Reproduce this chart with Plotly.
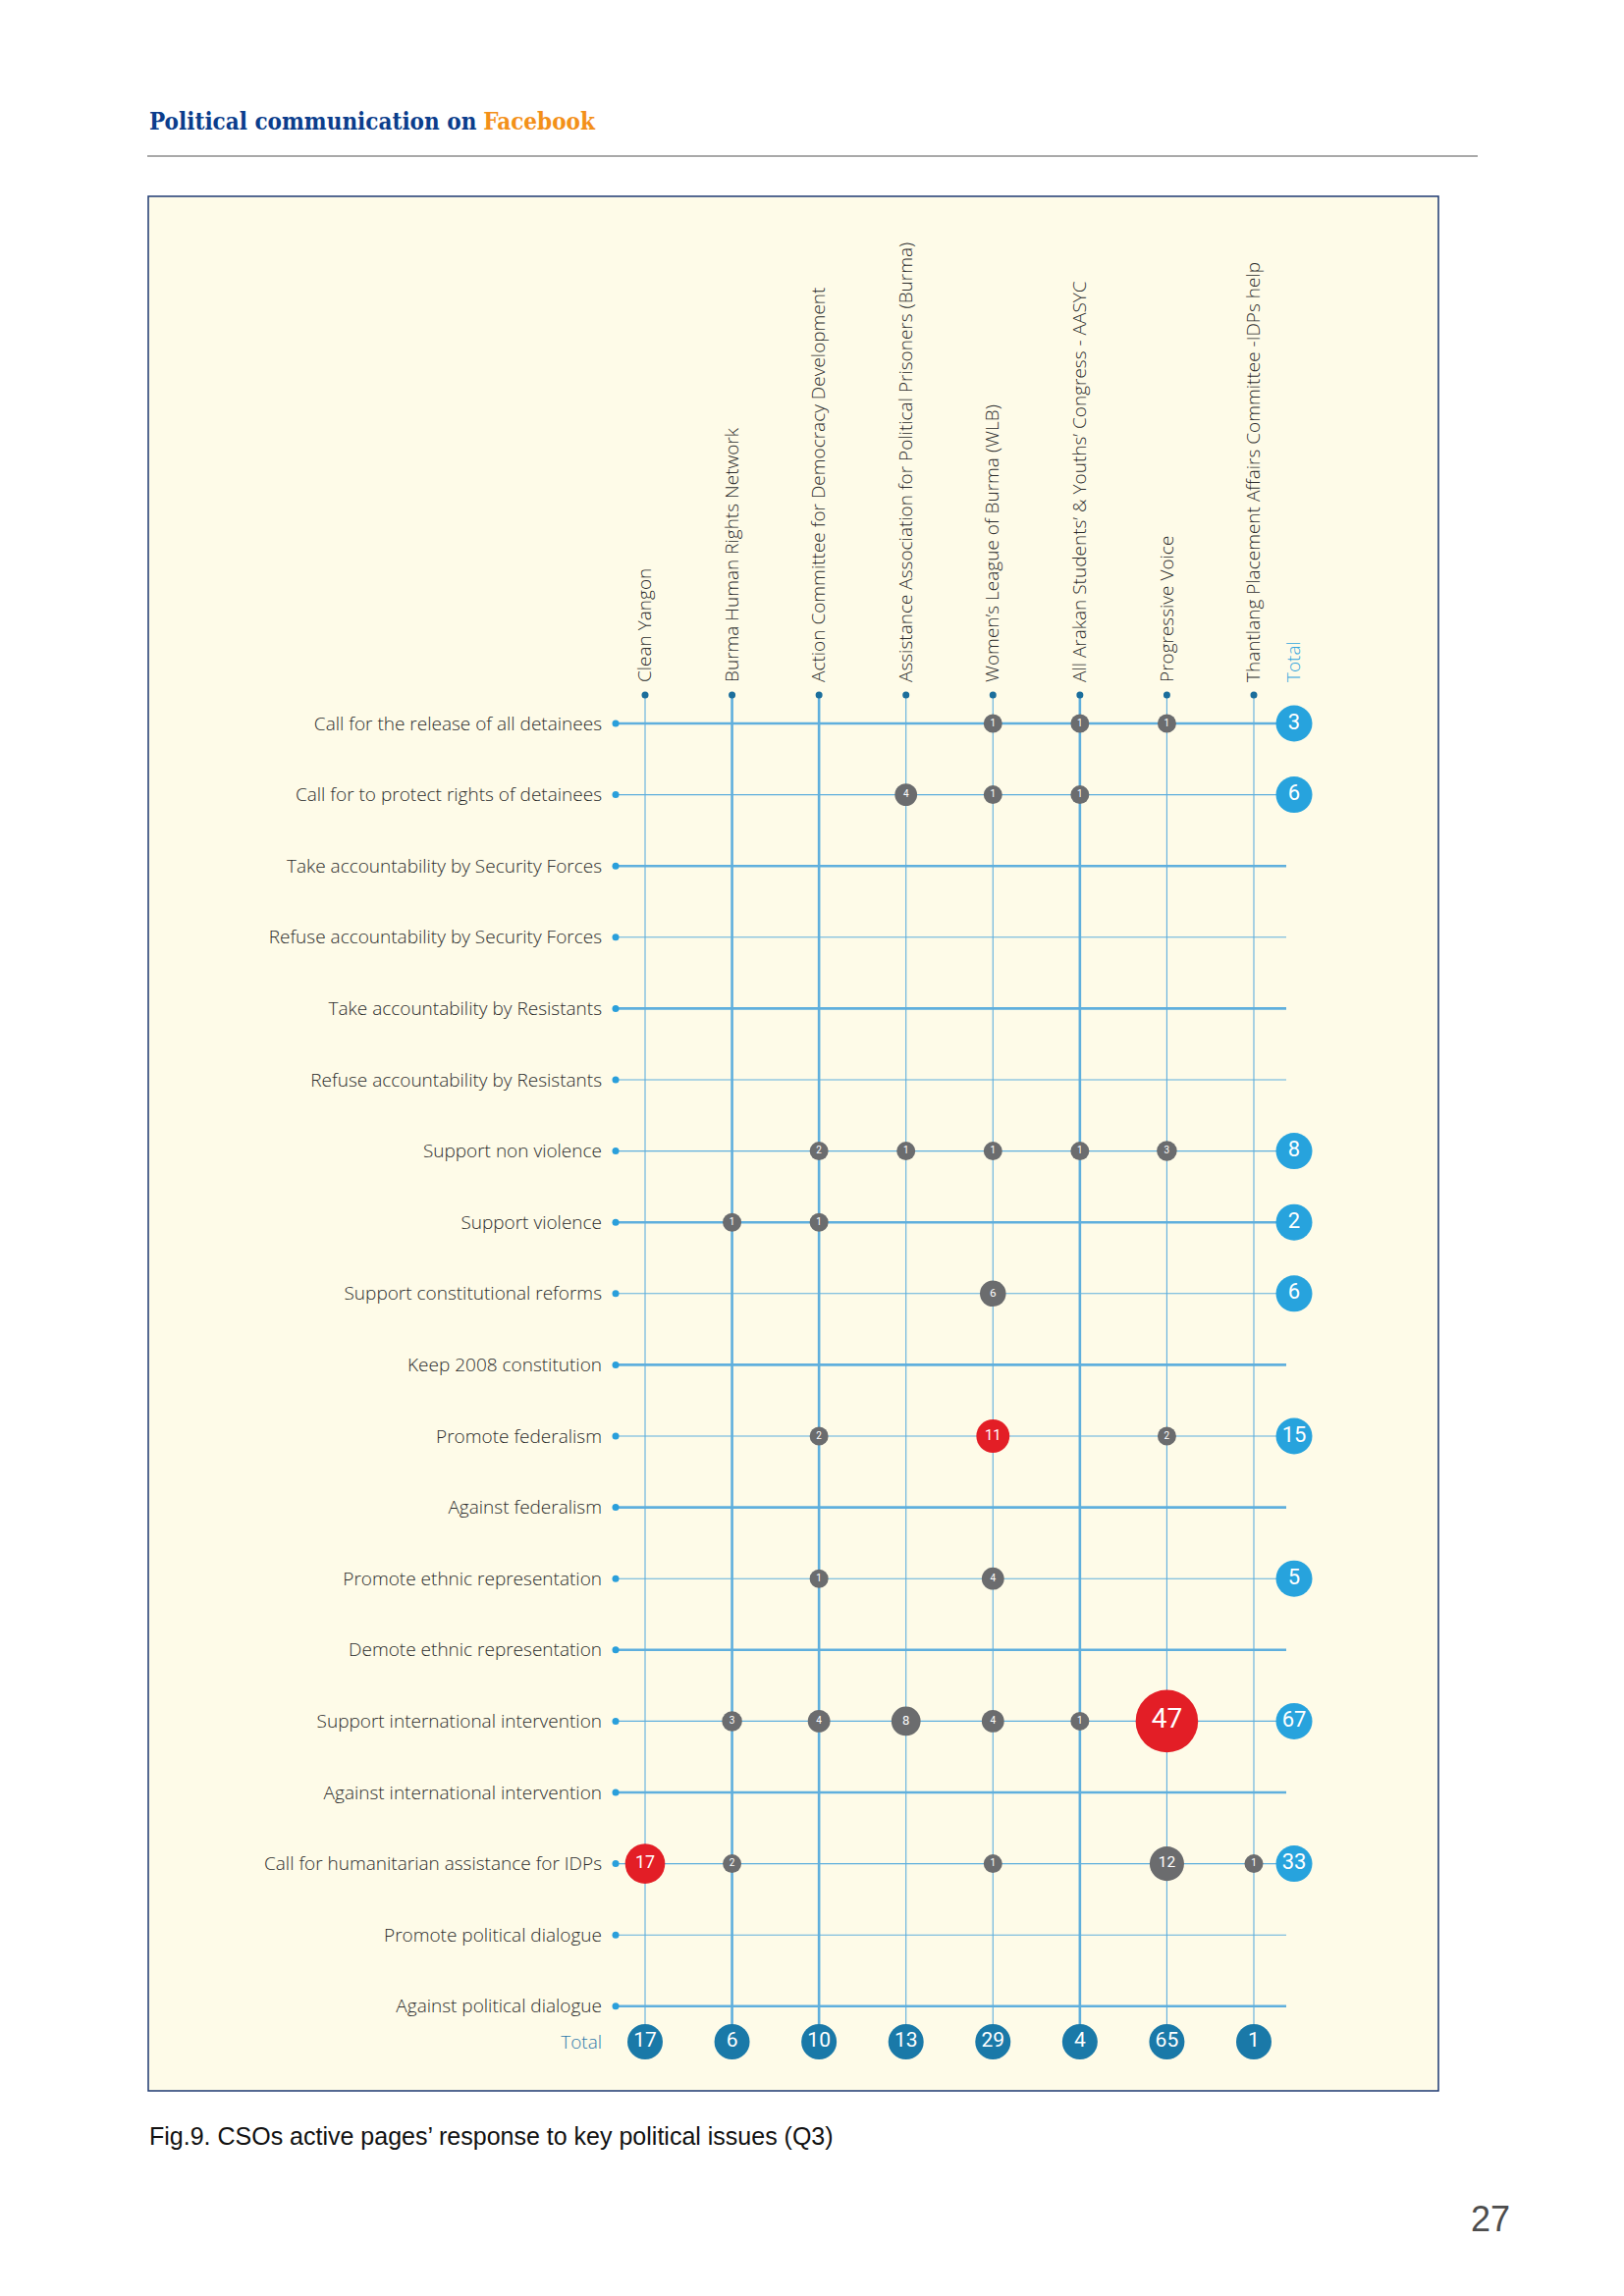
import numpy as np
import plotly.graph_objects as go

# ---------------- data ----------------
issues = [
    "Call for the release of all detainees",
    "Call for to protect rights of detainees",
    "Take accountability by Security Forces",
    "Refuse accountability by Security Forces",
    "Take accountability by Resistants",
    "Refuse accountability by Resistants",
    "Support non violence",
    "Support violence",
    "Support constitutional reforms",
    "Keep 2008 constitution",
    "Promote federalism",
    "Against federalism",
    "Promote ethnic representation",
    "Demote ethnic representation",
    "Support international intervention",
    "Against international intervention",
    "Call for humanitarian assistance for IDPs",
    "Promote political dialogue",
    "Against political dialogue",
]

organisations = [
    "Clean Yangon",
    "Burma Human Rights Network",
    "Action Committee for Democracy Development",
    "Assistance Association for Political Prisoners (Burma)",
    "Women\u2019s League of Burma (WLB)",
    "All Arakan Students\u2019 & Youths\u2019 Congress - AASYC",
    "Progressive Voice",
    "Thantlang Placement Affairs Committee -IDPs help",
]

# values per organisation, in the order of `issues`
clean_yangon = [0, 0, 0, 0, 0, 0, 0, 0, 0, 0, 0, 0, 0, 0, 0, 0, 17, 0, 0]
burma_hrn    = [0, 0, 0, 0, 0, 0, 0, 1, 0, 0, 0, 0, 0, 0, 3, 0, 2, 0, 0]
acdd         = [0, 0, 0, 0, 0, 0, 2, 1, 0, 0, 2, 0, 1, 0, 4, 0, 0, 0, 0]
aapp         = [0, 4, 0, 0, 0, 0, 1, 0, 0, 0, 0, 0, 0, 0, 8, 0, 0, 0, 0]
wlb          = [1, 1, 0, 0, 0, 0, 1, 0, 6, 0, 11, 0, 4, 0, 4, 0, 1, 0, 0]
aasyc        = [1, 1, 0, 0, 0, 0, 1, 0, 0, 0, 0, 0, 0, 0, 1, 0, 0, 0, 0]
progressive  = [1, 0, 0, 0, 0, 0, 3, 0, 0, 0, 2, 0, 0, 0, 47, 0, 12, 0, 0]
thantlang    = [0, 0, 0, 0, 0, 0, 0, 0, 0, 0, 0, 0, 0, 0, 0, 0, 1, 0, 0]

# line emphasis (style)
thick_rows = [0, 2, 4, 7, 9, 11, 13, 15, 18]
thick_cols = [1, 2, 5]

# ---------------- derived ----------------
matrix = np.array([clean_yangon, burma_hrn, acdd, aapp, wlb, aasyc,
                   progressive, thantlang]).T          # rows = issues
row_totals = matrix.sum(axis=1)
col_totals = matrix.sum(axis=0)
col_max = matrix.max(axis=0)

n_rows, n_cols = matrix.shape

# ---------------- layout geometry (screen pixels) ----------------
W, H = 1654, 2339
OFF = 8                      # default body margin of the html page
FW, FH = W - 2 * OFF, H - 2 * OFF
PL, PR, PT, PB = 616, 1345, 700, 2110
COL0, CSTEP = 657.0, 88.57
ROW0, RSTEP = 737.0, 72.6

def xi(px):
    return (px - COL0) / CSTEP

def yi(py):
    return (py - ROW0) / RSTEP

def pxp(px):
    return (px - PL) / (PR - PL)

def pyp(py):
    return 1 - (py - PT) / (PB - PT)

total_x = xi(1318)
total_y = yi(2080)
row_dot_x = xi(627)
col_dot_y = yi(708)
hline_end = xi(1310)

LINE = "#5fafdd"
FONT = "Open Sans, Noto Sans, sans-serif"
NUMFONT = "Liberation Sans Narrow, Roboto, sans-serif"

fig = go.Figure()

# horizontal lines
for j in range(n_rows):
    fig.add_trace(go.Scatter(
        x=[row_dot_x, hline_end], y=[j, j], mode="lines",
        line=dict(color=LINE, width=2.6 if j in thick_rows else 1.1),
        hoverinfo="skip", showlegend=False))

# vertical lines
for i in range(n_cols):
    fig.add_trace(go.Scatter(
        x=[i, i], y=[col_dot_y, total_y], mode="lines",
        line=dict(color=LINE, width=2.6 if i in thick_cols else 1.1),
        hoverinfo="skip", showlegend=False))

# end dots
fig.add_trace(go.Scatter(
    x=[row_dot_x] * n_rows, y=list(range(n_rows)), mode="markers",
    marker=dict(size=7, color="#2a9fdb", opacity=1), hoverinfo="skip", showlegend=False))
fig.add_trace(go.Scatter(
    x=list(range(n_cols)), y=[col_dot_y] * n_cols, mode="markers",
    marker=dict(size=7, color="#1b6e9c", opacity=1), hoverinfo="skip", showlegend=False))

# cell bubbles
cx, cy, cv, cs, cc, cf = [], [], [], [], [], []
for j in range(n_rows):
    for i in range(n_cols):
        v = int(matrix[j, i])
        if v > 0:
            d = max(19.0, 6 + 8.4 * np.sqrt(v))
            cx.append(i)
            cy.append(j)
            cv.append(str(v))
            cs.append(d)
            cc.append("#e31e26" if (v == col_max[i] and v >= 10) else "#6b6c6e")
            cf.append(max(10.0, 0.44 * d))

fig.add_trace(go.Scatter(
    x=cx, y=cy, mode="markers+text", text=cv, textposition="middle center",
    marker=dict(size=cs, color=cc, opacity=1, line=dict(width=0)),
    textfont=dict(family=NUMFONT, size=cf, color="white"),
    hoverinfo="skip", showlegend=False))

# row totals (right)
rt_y = [j for j in range(n_rows) if row_totals[j] > 0]
fig.add_trace(go.Scatter(
    x=[total_x] * len(rt_y), y=rt_y, mode="markers+text",
    text=[str(int(row_totals[j])) for j in rt_y], textposition="middle center",
    marker=dict(size=37, color="#27a3dd", opacity=1, line=dict(width=0)),
    textfont=dict(family=NUMFONT, size=22, color="white"),
    hoverinfo="skip", showlegend=False))

# column totals (bottom)
fig.add_trace(go.Scatter(
    x=list(range(n_cols)), y=[total_y] * n_cols, mode="markers+text",
    text=[str(int(v)) for v in col_totals], textposition="middle center",
    marker=dict(size=36, color="#1a79a8", opacity=1, line=dict(width=0)),
    textfont=dict(family=NUMFONT, size=21, color="white"),
    hoverinfo="skip", showlegend=False))

# ---------------- decorations ----------------
shapes = [
    dict(type="rect", xref="paper", yref="paper", layer="below",
         x0=pxp(151), x1=pxp(1465), y0=pyp(200), y1=pyp(2130),
         fillcolor="#fefbe8", line=dict(color="#1e3a72", width=1.5)),
    dict(type="line", xref="paper", yref="paper",
         x0=pxp(150), x1=pxp(1505), y0=pyp(159), y1=pyp(159),
         line=dict(color="#8c8c8c", width=1.5)),
]

annotations = [
    dict(xref="paper", yref="paper", x=pxp(150), y=pyp(123),
         xanchor="left", yanchor="middle", showarrow=False,
         text="<b>Political communication on</b> <b><span style='color:#f39019'>Facebook</span></b>",
         font=dict(family="DejaVu Serif Condensed, DejaVu Serif, serif", size=24, color="#0b3d8c")),
    dict(xref="paper", yref="paper", x=pxp(150), y=pyp(2176),
         xanchor="left", yanchor="middle", showarrow=False,
         text="Fig.9. CSOs active pages\u2019 response to key political issues (Q3)",
         font=dict(family="Liberation Sans Narrow, Liberation Sans, sans-serif", size=25, color="#111111")),
    dict(xref="paper", yref="paper", x=pxp(1518), y=pyp(2260),
         xanchor="center", yanchor="middle", showarrow=False,
         text="27",
         font=dict(family="Liberation Sans Narrow, Liberation Sans, sans-serif", size=36, color="#4d4d4d")),
]

fig.update_layout(
    width=FW, height=FH,
    margin=dict(l=PL - OFF, r=FW - (PR - OFF), t=PT - OFF, b=FH - (PB - OFF), pad=0),
    paper_bgcolor="white", plot_bgcolor="rgba(0,0,0,0)",
    showlegend=False, shapes=shapes, annotations=annotations,
    xaxis=dict(
        side="top", range=[xi(PL), xi(PR)], tickmode="array",
        tickvals=list(range(n_cols)) + [total_x],
        ticktext=organisations + ["<span style='color:#35a6de'>Total</span>"],
        tickangle=-90, showgrid=False, zeroline=False, showline=False,
        ticks="", ticklabelstandoff=4,
        tickfont=dict(family=FONT, size=19, color="#2b2b2b", weight=300)),
    yaxis=dict(
        range=[yi(PB), yi(PT)], tickmode="array",
        tickvals=list(range(n_rows)) + [total_y],
        ticktext=issues + ["<span style='color:#2f7aab'>Total</span>"],
        showgrid=False, zeroline=False, showline=False,
        ticks="", ticklabelstandoff=2,
        tickfont=dict(family=FONT, size=19, color="#2b2b2b", weight=300)),
)

fig.write_html("out.html")
